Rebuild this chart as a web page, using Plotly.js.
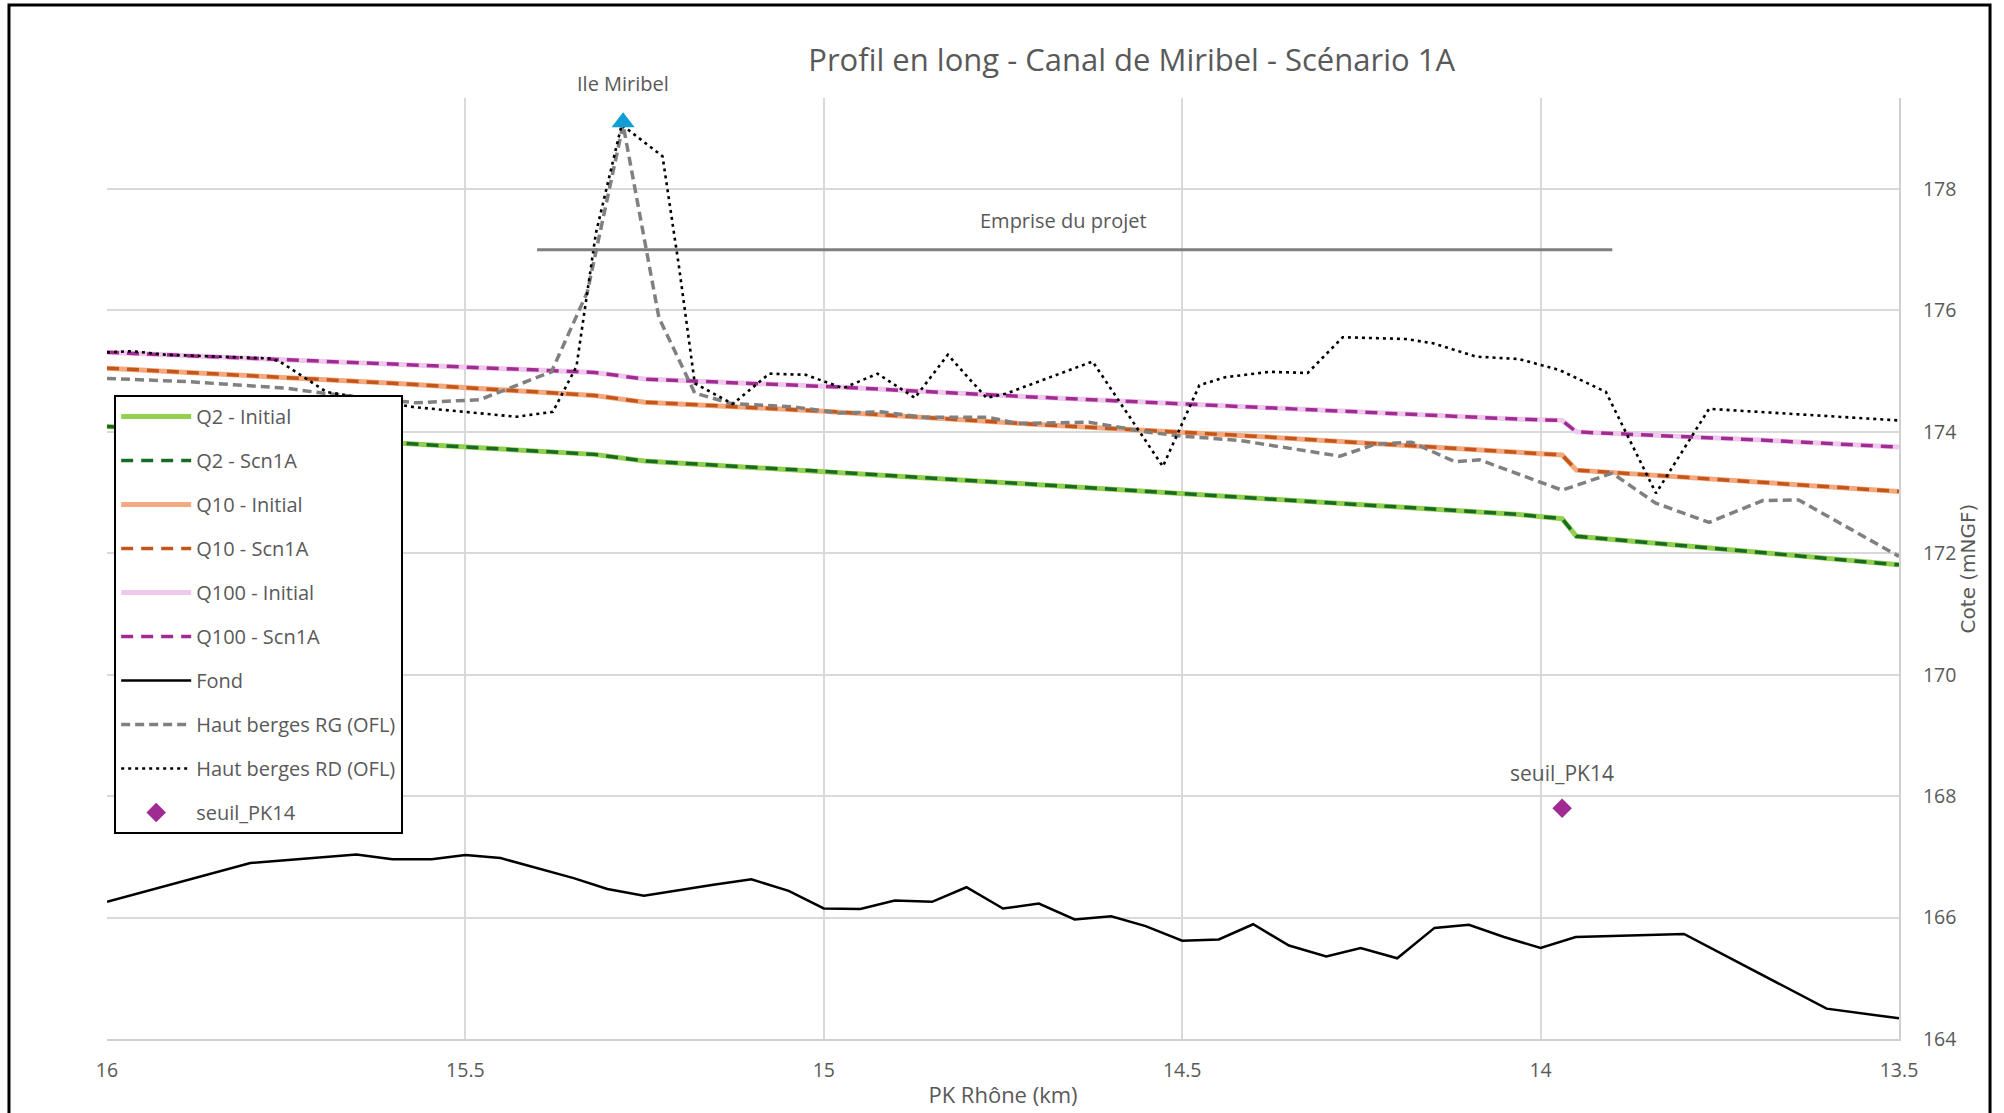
<!DOCTYPE html>
<html>
<head>
<meta charset="utf-8">
<script src="https://cdn.plot.ly/plotly-3.0.1.min.js"></script>
<style>html,body{margin:0;padding:0;background:#fff;}#chart{width:2004px;height:1113px;}</style>
</head>
<body>
<div id="chart"></div>
<script>
// ---- Data ----
const pkEau = [16.0, 15.6, 15.32, 15.25, 15.0, 14.7, 14.4, 14.2, 14.03, 13.97, 13.95, 13.7, 13.5];
const q2Initial  = [174.09, 173.82, 173.63, 173.52, 173.35, 173.13, 172.91, 172.76, 172.64, 172.57, 172.28, 172.02, 171.81];
const q2Scn1A    = [174.09, 173.82, 173.63, 173.52, 173.35, 173.13, 172.91, 172.76, 172.64, 172.57, 172.28, 172.02, 171.81];
const q10Initial = [175.05, 174.80, 174.60, 174.49, 174.34, 174.12, 173.93, 173.78, 173.66, 173.62, 173.37, 173.18, 173.02];
const q10Scn1A   = [175.05, 174.80, 174.60, 174.49, 174.34, 174.12, 173.93, 173.78, 173.66, 173.62, 173.37, 173.18, 173.02];
const q100Initial= [175.31, 175.11, 174.98, 174.87, 174.75, 174.57, 174.40, 174.30, 174.21, 174.19, 174.00, 173.87, 173.75];
const q100Scn1A  = [175.31, 175.11, 174.98, 174.87, 174.75, 174.57, 174.40, 174.30, 174.21, 174.19, 174.00, 173.87, 173.75];

const pkFond = [16.0, 15.80, 15.652, 15.602, 15.547, 15.50, 15.451, 15.349, 15.302, 15.251, 15.154, 15.101, 15.049, 15.0, 14.949, 14.901, 14.849, 14.801, 14.750, 14.700, 14.650, 14.599, 14.551, 14.50, 14.449, 14.401, 14.351, 14.299, 14.251, 14.200, 14.148, 14.100, 14.051, 14.0, 13.951, 13.80, 13.601, 13.5];
const fond   = [166.26, 166.90, 167.04, 166.96, 166.96, 167.03, 166.98, 166.65, 166.47, 166.36, 166.54, 166.63, 166.44, 166.15, 166.14, 166.28, 166.26, 166.50, 166.15, 166.23, 165.97, 166.02, 165.86, 165.62, 165.64, 165.89, 165.54, 165.36, 165.50, 165.33, 165.83, 165.88, 165.68, 165.50, 165.68, 165.73, 164.50, 164.34];

const pkRG = [16.0, 15.89, 15.75, 15.70, 15.57, 15.48, 15.38, 15.33, 15.28, 15.23, 15.18, 15.13, 15.04, 14.98, 14.92, 14.86, 14.77, 14.73, 14.63, 14.55, 14.50, 14.42, 14.28, 14.23, 14.18, 14.12, 14.085, 13.97, 13.90, 13.84, 13.765, 13.69, 13.64, 13.50];
const bergesRG = [174.88, 174.83, 174.72, 174.64, 174.48, 174.53, 174.99, 176.30, 179.06, 175.88, 174.64, 174.47, 174.41, 174.31, 174.33, 174.24, 174.24, 174.14, 174.16, 174.00, 173.93, 173.86, 173.60, 173.80, 173.83, 173.51, 173.54, 173.04, 173.32, 172.83, 172.51, 172.87, 172.88, 171.95];

const pkRD = [16.0, 15.966, 15.917, 15.815, 15.773, 15.759, 15.694, 15.573, 15.499, 15.429, 15.378, 15.345, 15.318, 15.282, 15.225, 15.202, 15.180, 15.127, 15.076, 15.025, 14.973, 14.925, 14.873, 14.827, 14.773, 14.746, 14.625, 14.527, 14.476, 14.44, 14.378, 14.325, 14.276, 14.188, 14.150, 14.090, 14.030, 13.974, 13.909, 13.839, 13.765, 13.502];
const bergesRD = [175.31, 175.33, 175.27, 175.23, 175.21, 175.16, 174.66, 174.41, 174.33, 174.25, 174.33, 175.08, 177.27, 179.06, 178.54, 176.72, 174.80, 174.46, 174.96, 174.94, 174.72, 174.96, 174.56, 175.27, 174.56, 174.63, 175.16, 173.43, 174.77, 174.90, 174.99, 174.97, 175.56, 175.53, 175.46, 175.24, 175.20, 175.02, 174.66, 172.99, 174.38, 174.19];

const seuilPK = [13.97];
const seuilCote = [167.8];

const ileMiribelPK = [15.28];
const ileMiribelCote = [179.1];

const empriseProjetPK = [15.40, 13.90];
const empriseProjetCote = [177.0, 177.0];
const empriseLabelPK = 14.665;

const seriesNames = ['Q2 - Initial', 'Q2 - Scn1A', 'Q10 - Initial', 'Q10 - Scn1A', 'Q100 - Initial', 'Q100 - Scn1A', 'Fond', 'Haut berges RG (OFL)', 'Haut berges RD (OFL)', 'seuil_PK14'];

// ---- Traces ----
function lineTrace(name, x, y, color, width, dash) {
  return {type: 'scatter', mode: 'lines', name: name, legendgroup: name, x: x, y: y,
          line: {color: color, width: width, dash: dash || 'solid'}, hoverinfo: 'x+y+name'};
}
const traces = [
  lineTrace(seriesNames[0], pkEau, q2Initial, '#92D050', 5),
  lineTrace(seriesNames[1], pkEau, q2Scn1A, '#196B24', 3.5, '12px,8px'),
  lineTrace(seriesNames[2], pkEau, q10Initial, '#F4AA80', 5),
  lineTrace(seriesNames[3], pkEau, q10Scn1A, '#C4561A', 3.5, '12px,8px'),
  lineTrace(seriesNames[4], pkEau, q100Initial, '#F0C8EC', 5),
  lineTrace(seriesNames[5], pkEau, q100Scn1A, '#A02B93', 3.5, '12px,8px'),
  lineTrace(seriesNames[6], pkFond, fond, '#000000', 2.5),
  lineTrace(seriesNames[7], pkRG, bergesRG, '#808080', 3.5, '9px,5px'),
  lineTrace(seriesNames[8], pkRD, bergesRD, '#000000', 2.6, '3px,4px'),
  {type: 'scatter', mode: 'markers', name: seriesNames[9], legendgroup: seriesNames[9],
   x: seuilPK, y: seuilCote, marker: {symbol: 'diamond', size: 15, color: '#A02B93'}},
  {type: 'scatter', mode: 'lines', showlegend: false, x: empriseProjetPK, y: empriseProjetCote,
   line: {color: '#7F7F7F', width: 3}, hoverinfo: 'skip'},
  {type: 'scatter', mode: 'markers', showlegend: false, x: ileMiribelPK, y: ileMiribelCote,
   marker: {symbol: 'triangle-up', size: 20, color: '#0F9ED5'}, hoverinfo: 'skip'}
];

const FONT = '"Open Sans", Lato, sans-serif';
const labelFont = {family: FONT, size: 20, color: '#595959'};

const layout = {
  width: 2004, height: 1113,
  margin: {l: 107, r: 105, t: 98, b: 74},
  paper_bgcolor: '#FFFFFF', plot_bgcolor: '#FFFFFF',
  font: {family: FONT, color: '#595959', size: 19},
  title: {text: 'Profil en long - Canal de Miribel - Scénario 1A',
          x: 0.5647, xref: 'container', xanchor: 'center',
          y: 0.946, yref: 'container', yanchor: 'middle',
          font: {family: FONT, size: 31, color: '#595959'}},
  xaxis: {range: [16, 13.5], tick0: 13.5, dtick: 0.5, showgrid: true, gridcolor: '#D9D9D9', gridwidth: 2,
          showline: true, linecolor: '#D0D0D0', linewidth: 2, zeroline: false, ticks: '',
          tickfont: {family: FONT, size: 19.5, color: '#595959'}, ticklabelstandoff: 13,
          title: {text: 'PK Rhône (km)', font: {family: FONT, size: 22, color: '#595959'}, standoff: 5}},
  yaxis: {range: [164, 179.5], tick0: 164, dtick: 2, side: 'right', showgrid: true, gridcolor: '#D9D9D9', gridwidth: 2,
          showline: true, linecolor: '#D0D0D0', linewidth: 2, zeroline: false, ticks: '',
          tickfont: {family: FONT, size: 19.5, color: '#595959'}, ticklabelstandoff: 18,
          title: {text: 'Cote (mNGF)', font: {family: '"DejaVu Sans", sans-serif', size: 20, color: '#595959'}, standoff: 4}},
  legend: {x: 0.004, y: 0.6844, xanchor: 'left', yanchor: 'top', bgcolor: '#FFFFFF',
           bordercolor: '#000000', borderwidth: 2, font: {family: FONT, size: 20, color: '#595959'},
           itemwidth: 70, tracegroupgap: 15, traceorder: 'grouped'},
  annotations: [
    {x: ileMiribelPK[0], y: ileMiribelCote[0], xref: 'x', yref: 'y', text: 'Ile Miribel', showarrow: false, yshift: 39, font: labelFont},
    {x: empriseLabelPK, y: empriseProjetCote[0], xref: 'x', yref: 'y', text: 'Emprise du projet', showarrow: false, yshift: 29, font: labelFont},
    {x: seuilPK[0], y: seuilCote[0], xref: 'x', yref: 'y', text: 'seuil_PK14', showarrow: false, yshift: 35, font: {family: FONT, size: 21, color: '#595959'}}
  ],
  shapes: [
    {type: 'rect', xref: 'paper', yref: 'paper', x0: -0.0547, x1: 1.0508, y0: -0.09, y1: 1.0988,
     line: {color: '#000000', width: 3}, fillcolor: 'rgba(0,0,0,0)', layer: 'above'}
  ],
  showlegend: true
};

Plotly.newPlot('chart', traces, layout, {displayModeBar: false, staticPlot: true});
</script>
</body>
</html>
